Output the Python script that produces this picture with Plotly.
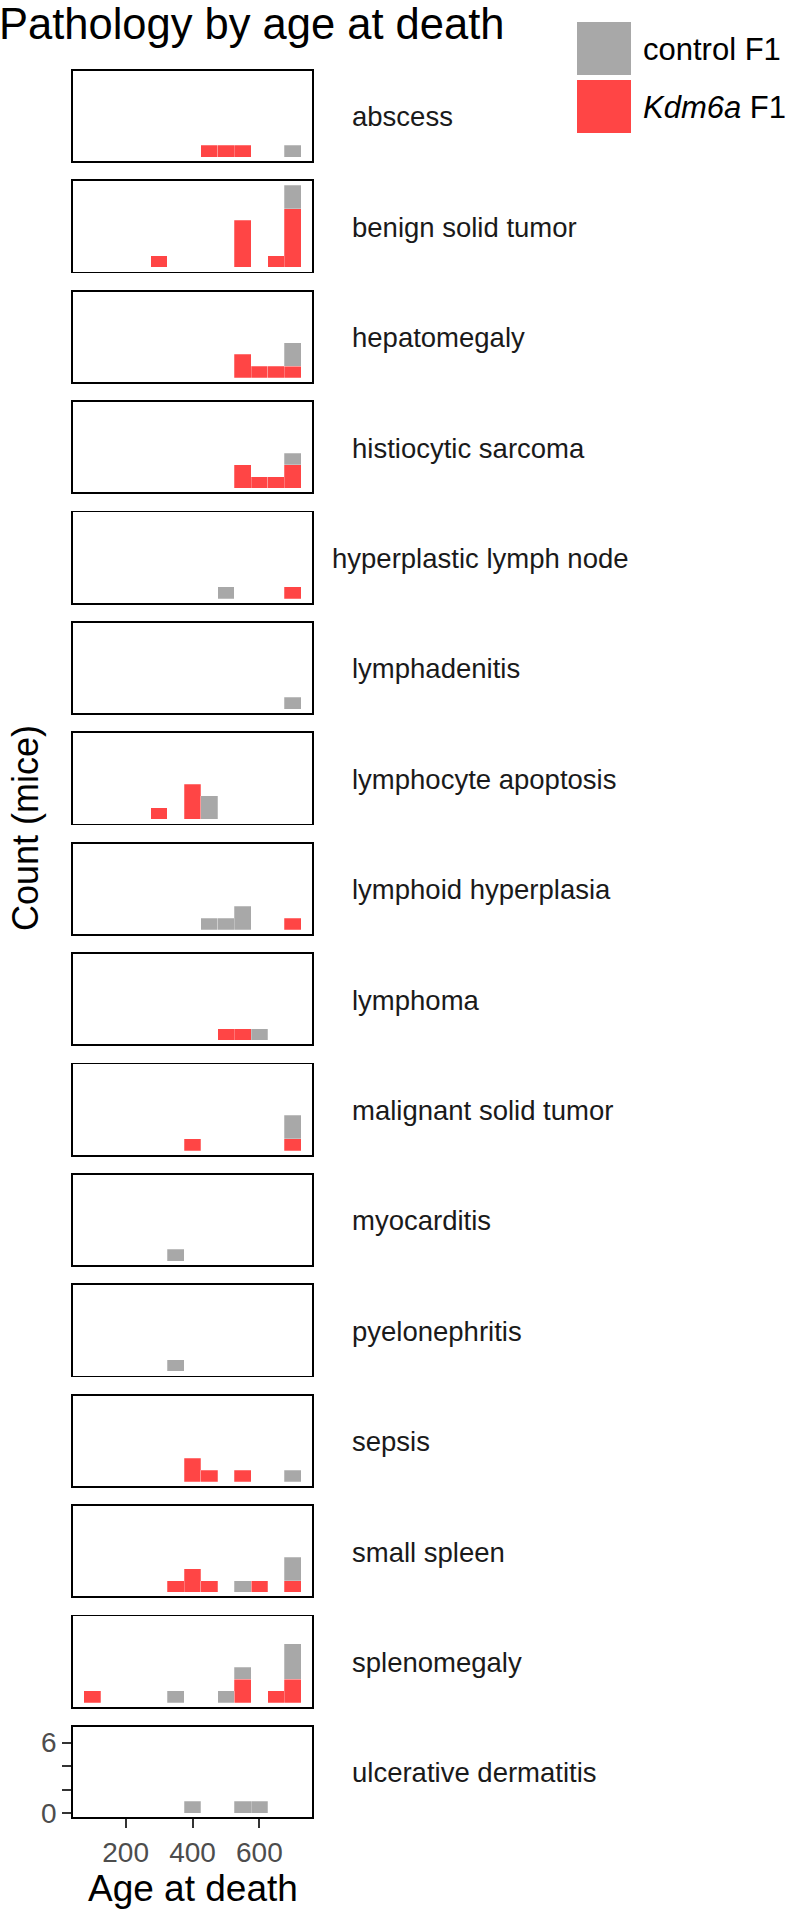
import plotly.graph_objects as go

# ---------------- data ----------------
AGE_BINS = [100, 150, 200, 250, 300, 350, 400, 450, 500, 550, 600, 650, 700]
BIN_WIDTH = 50

PATHOLOGIES = [
    "abscess", "benign solid tumor", "hepatomegaly", "histiocytic sarcoma",
    "hyperplastic lymph node", "lymphadenitis", "lymphocyte apoptosis",
    "lymphoid hyperplasia", "lymphoma", "malignant solid tumor", "myocarditis",
    "pyelonephritis", "sepsis", "small spleen", "splenomegaly",
    "ulcerative dermatitis",
]

#                 100 150 200 250 300 350 400 450 500 550 600 650 700
CONTROL_F1 = [
    [0, 0, 0, 0, 0, 0, 0, 0, 0, 0, 0, 0, 1],  # abscess
    [0, 0, 0, 0, 0, 0, 0, 0, 0, 0, 0, 0, 2],  # benign solid tumor
    [0, 0, 0, 0, 0, 0, 0, 0, 0, 0, 0, 0, 2],  # hepatomegaly
    [0, 0, 0, 0, 0, 0, 0, 0, 0, 0, 0, 0, 1],  # histiocytic sarcoma
    [0, 0, 0, 0, 0, 0, 0, 0, 1, 0, 0, 0, 0],  # hyperplastic lymph node
    [0, 0, 0, 0, 0, 0, 0, 0, 0, 0, 0, 0, 1],  # lymphadenitis
    [0, 0, 0, 0, 0, 0, 0, 2, 0, 0, 0, 0, 0],  # lymphocyte apoptosis
    [0, 0, 0, 0, 0, 0, 0, 1, 1, 2, 0, 0, 0],  # lymphoid hyperplasia
    [0, 0, 0, 0, 0, 0, 0, 0, 0, 0, 1, 0, 0],  # lymphoma
    [0, 0, 0, 0, 0, 0, 0, 0, 0, 0, 0, 0, 2],  # malignant solid tumor
    [0, 0, 0, 0, 0, 1, 0, 0, 0, 0, 0, 0, 0],  # myocarditis
    [0, 0, 0, 0, 0, 1, 0, 0, 0, 0, 0, 0, 0],  # pyelonephritis
    [0, 0, 0, 0, 0, 0, 0, 0, 0, 0, 0, 0, 1],  # sepsis
    [0, 0, 0, 0, 0, 0, 0, 0, 0, 1, 0, 0, 2],  # small spleen
    [0, 0, 0, 0, 0, 1, 0, 0, 1, 1, 0, 0, 3],  # splenomegaly
    [0, 0, 0, 0, 0, 0, 1, 0, 0, 1, 1, 0, 0],  # ulcerative dermatitis
]

KDM6A_F1 = [
    [0, 0, 0, 0, 0, 0, 0, 1, 1, 1, 0, 0, 0],  # abscess
    [0, 0, 0, 0, 1, 0, 0, 0, 0, 4, 0, 1, 5],  # benign solid tumor
    [0, 0, 0, 0, 0, 0, 0, 0, 0, 2, 1, 1, 1],  # hepatomegaly
    [0, 0, 0, 0, 0, 0, 0, 0, 0, 2, 1, 1, 2],  # histiocytic sarcoma
    [0, 0, 0, 0, 0, 0, 0, 0, 0, 0, 0, 0, 1],  # hyperplastic lymph node
    [0, 0, 0, 0, 0, 0, 0, 0, 0, 0, 0, 0, 0],  # lymphadenitis
    [0, 0, 0, 0, 1, 0, 3, 0, 0, 0, 0, 0, 0],  # lymphocyte apoptosis
    [0, 0, 0, 0, 0, 0, 0, 0, 0, 0, 0, 0, 1],  # lymphoid hyperplasia
    [0, 0, 0, 0, 0, 0, 0, 0, 1, 1, 0, 0, 0],  # lymphoma
    [0, 0, 0, 0, 0, 0, 1, 0, 0, 0, 0, 0, 1],  # malignant solid tumor
    [0, 0, 0, 0, 0, 0, 0, 0, 0, 0, 0, 0, 0],  # myocarditis
    [0, 0, 0, 0, 0, 0, 0, 0, 0, 0, 0, 0, 0],  # pyelonephritis
    [0, 0, 0, 0, 0, 0, 2, 1, 0, 1, 0, 0, 0],  # sepsis
    [0, 0, 0, 0, 0, 1, 2, 1, 0, 0, 1, 0, 1],  # small spleen
    [1, 0, 0, 0, 0, 0, 0, 0, 0, 2, 0, 1, 2],  # splenomegaly
    [0, 0, 0, 0, 0, 0, 0, 0, 0, 0, 0, 0, 0],  # ulcerative dermatitis
]

X_TICKS = [200, 400, 600]
Y_TICKS = [0, 2, 4, 6]
Y_TICK_LABELS = ["0", "", "", "6"]

SERIES_NAMES = ["control F1", "<i>Kdm6a</i> F1"]

# ---------------- style ----------------
GRAY = "#A8A8A8"
RED = "#FF4545"
FONT = "Liberation Sans, Arial, Helvetica, sans-serif"

W, H = 788, 1910
ML, MR, MT, MB = 73, 476, 70, 92
PW = W - ML - MR
PH = H - MT - MB
PANEL_TOP0 = 70.7
PITCH = 110.4
PANEL_H = 90.5

X_RANGE = [42.5, 757.5]
Y_RANGE = [-0.35, 7.35]


def px_x(px):
    return (px - ML) / PW


def px_y(py):
    return 1 - (py - MT) / PH


def nz(vals):
    return [v if v else None for v in vals]


fig = go.Figure()
n = len(PATHOLOGIES)
layout_axes = {}
annotations = []

for i, name in enumerate(PATHOLOGIES):
    sfx = "" if i == 0 else str(i + 1)
    xref, yref = "x" + sfx, "y" + sfx
    fig.add_trace(go.Bar(
        x=AGE_BINS, y=nz(KDM6A_F1[i]), width=BIN_WIDTH,
        marker=dict(color=RED, line=dict(color="rgba(255,255,255,0.5)", width=0.5)),
        xaxis=xref, yaxis=yref, showlegend=False, name="Kdm6a F1",
    ))
    fig.add_trace(go.Bar(
        x=AGE_BINS, y=nz(CONTROL_F1[i]), width=BIN_WIDTH,
        marker=dict(color=GRAY, line=dict(color="rgba(255,255,255,0.5)", width=0.5)),
        xaxis=xref, yaxis=yref, showlegend=False, name="control F1",
    ))

    top = PANEL_TOP0 + i * PITCH
    bot = top + PANEL_H
    last = i == n - 1

    layout_axes["xaxis" + sfx] = dict(
        domain=[0, 1], range=X_RANGE, anchor=yref,
        showgrid=False, zeroline=False,
        showline=True, mirror=True, linecolor="black", linewidth=1.8,
        ticks="outside" if last else "", ticklen=9, tickwidth=2, tickcolor="#333333",
        tickvals=X_TICKS, showticklabels=last,
        tickfont=dict(family=FONT, size=28, color="#4D4D4D"),
        fixedrange=True,
    )
    layout_axes["yaxis" + sfx] = dict(
        domain=[px_y(bot), px_y(top)], range=Y_RANGE, anchor=xref,
        showgrid=False, zeroline=False,
        showline=True, mirror=True, linecolor="black", linewidth=1.8,
        ticks="outside" if last else "", ticklen=9, tickwidth=2, tickcolor="#333333",
        tickvals=Y_TICKS, ticktext=Y_TICK_LABELS, showticklabels=last,
        tickfont=dict(family=FONT, size=28, color="#4D4D4D"),
        fixedrange=True,
    )

    label_x = 330 if name == "hyperplastic lymph node" else 350
    annotations.append(dict(
        text=name, xref="paper", yref="paper",
        x=px_x(label_x), y=px_y((top + bot) / 2 + 1),
        xanchor="left", yanchor="middle", showarrow=False,
        font=dict(family=FONT, size=27.5, color="#1A1A1A"),
    ))

# title
annotations.append(dict(
    text="Pathology by age at death", xref="paper", yref="paper",
    x=px_x(-3), y=px_y(24), xanchor="left", yanchor="middle", showarrow=False,
    font=dict(family=FONT, size=43.5, color="black"),
))
# axis titles
annotations.append(dict(
    text="Age at death", xref="paper", yref="paper",
    x=px_x(193), y=px_y(1888), xanchor="center", yanchor="middle", showarrow=False,
    font=dict(family=FONT, size=37, color="black"),
))
annotations.append(dict(
    text="Count (mice)", xref="paper", yref="paper",
    x=px_x(25), y=px_y(828), xanchor="center", yanchor="middle", showarrow=False,
    textangle=-90, font=dict(family=FONT, size=36, color="black"),
))

# legend (drawn manually)
shapes = []
legend_rows = [(GRAY, SERIES_NAMES[0], 22, 75), (RED, SERIES_NAMES[1], 80, 133)]
for color, label, y0, y1 in legend_rows:
    shapes.append(dict(
        type="rect", xref="paper", yref="paper",
        x0=px_x(577), x1=px_x(631), y0=px_y(y1), y1=px_y(y0),
        fillcolor=color, line=dict(width=0),
    ))
    annotations.append(dict(
        text=label, xref="paper", yref="paper",
        x=px_x(641), y=px_y((y0 + y1) / 2 + 1), xanchor="left", yanchor="middle",
        showarrow=False, font=dict(family=FONT, size=31, color="black"),
    ))

fig.update_layout(
    width=W, height=H,
    margin=dict(l=ML, r=MR, t=MT, b=MB, autoexpand=False),
    paper_bgcolor="white", plot_bgcolor="white",
    barmode="stack", bargap=0,
    showlegend=False,
    annotations=annotations, shapes=shapes,
    font=dict(family=FONT),
    **layout_axes,
)

fig.write_html(
    "out.html",
    config={"displayModeBar": False, "staticPlot": True},
    post_script="document.body.style.margin='0px';document.body.style.overflow='hidden';",
)
